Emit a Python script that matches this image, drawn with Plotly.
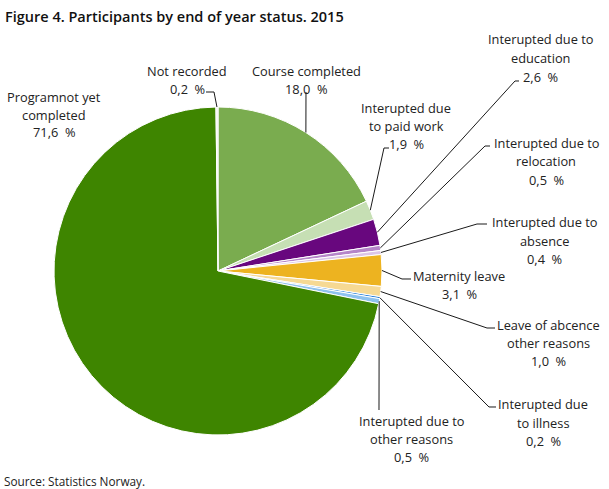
import math
import plotly.graph_objects as go

# ---------------- data ----------------
categories = [
    "Course completed",
    "Interupted due to paid work",
    "Interupted due to education",
    "Interupted due to relocation",
    "Interupted due to absence",
    "Maternity leave",
    "Leave of abcence other reasons",
    "Interupted due to illness",
    "Interupted due to other reasons",
    "Programnot yet completed",
    "Not recorded",
]
values = [18.0, 1.9, 2.6, 0.5, 0.4, 3.1, 1.0, 0.2, 0.5, 71.6, 0.2]
label_lines = [
    ["Course completed"],
    ["Interupted due", "to paid work"],
    ["Interupted due to", "education"],
    ["Interupted due to", "relocation"],
    ["Interupted due to", "absence"],
    ["Maternity leave"],
    ["Leave of abcence", "other reasons"],
    ["Interupted due", "to illness"],
    ["Interupted due to", "other reasons"],
    ["Programnot yet", "completed"],
    ["Not recorded"],
]
colors = [
    "#7aac4f", "#c6dfb4", "#68077e", "#b585c9", "#dcc5e8",
    "#edb320", "#f6d993", "#1f7ad6", "#8ec2ee", "#3e8500", "#f2f2f2",
]

# ---------------- layout (pixels) ----------------
W, H = 609, 489
PIE_LEFT, PIE_TOP, PIE_SIZE = 54, 107, 328
CX, CY, R = PIE_LEFT + PIE_SIZE / 2, PIE_TOP + PIE_SIZE / 2, PIE_SIZE / 2

# label centre x, first-line centre y, line step, leader elbow points
label_pos = [
    (306, 71, 17.5, [(306, 92)]),
    (406, 108, 18, [(384, 148), (389, 148)]),
    (540, 39, 19, [(515, 81), (519, 81)]),
    (546, 143, 18.5, [(485, 146), (490, 146)]),
    (544, 222, 18.5, [(477, 224), (487, 224)]),
    (459, 276, 17.5, [(402, 279), (411, 279)]),
    (548, 325, 18, [(487, 328), (495, 328)]),
    (543, 404, 18.5, [(489, 407), (496, 407)]),
    (412, 421, 18, [(379, 410)]),
    (54, 97, 17.5, []),
    (187, 71, 17.5, [(214, 92), (206, 92)]),
]


def px(x):
    return x / W


def py(y):
    return 1 - y / H


fig = go.Figure(
    go.Pie(
        labels=categories,
        values=values,
        sort=False,
        direction="clockwise",
        rotation=0,
        textinfo="none",
        hoverinfo="label+percent",
        marker=dict(colors=colors, line=dict(color="white", width=1)),
        domain=dict(
            x=[px(PIE_LEFT), px(PIE_LEFT + PIE_SIZE)],
            y=[py(PIE_TOP + PIE_SIZE), py(PIE_TOP)],
        ),
        showlegend=False,
    )
)

annotations = []
shapes = []
total = sum(values)
cum = 0.0
for v, lines, (lx, ly, step, elbow) in zip(values, label_lines, label_pos):
    mid = (cum + v / 2) / total * 2 * math.pi
    cum += v
    ex = CX + R * math.sin(mid)
    ey = CY - R * math.cos(mid)
    pct = f"{v:.1f}".replace(".", ",") + "  %"
    all_lines = lines + [pct]
    for i, t in enumerate(all_lines):
        annotations.append(dict(
            x=px(lx), y=py(ly + i * step), xref="paper", yref="paper",
            text=t, showarrow=False, xanchor="center", yanchor="middle",
            font=dict(family="Open Sans", size=12.8, color="#222222"),
        ))
    if elbow:
        pts = [(ex, ey)] + elbow
        path = "M " + " L ".join(f"{px(a):.5f},{py(b):.5f}" for a, b in pts)
        shapes.append(dict(type="path", xref="paper", yref="paper", path=path,
                           line=dict(color="#1a1a1a", width=1)))

annotations.append(dict(
    x=px(3), y=py(17), xref="paper", yref="paper", xanchor="left", yanchor="middle",
    text="Figure 4. Participants by end of year status. 2015", showarrow=False,
    font=dict(family="Open Sans", size=14.5, color="#111111", weight=600),
))
annotations.append(dict(
    x=px(2), y=py(481), xref="paper", yref="paper", xanchor="left", yanchor="middle",
    text="Source: Statistics Norway.", showarrow=False,
    font=dict(family="Open Sans", size=11.8, color="#222222"),
))

fig.update_layout(
    width=W, height=H,
    margin=dict(l=0, r=0, t=0, b=0),
    paper_bgcolor="white", plot_bgcolor="white",
    annotations=annotations, shapes=shapes,
)

fig.write_html(
    "out.html",
    config={"displayModeBar": False},
    post_script="document.body.style.margin='0';document.body.style.padding='0';",
)
